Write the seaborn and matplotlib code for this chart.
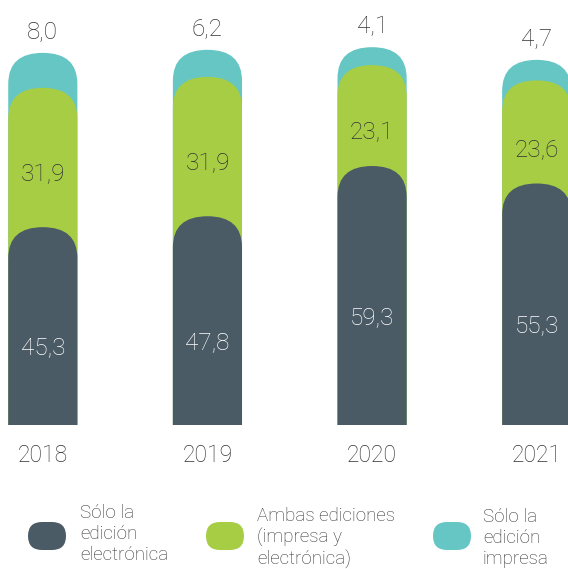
import matplotlib
matplotlib.use("Agg")
import numpy as np
import pandas as pd
import seaborn as sns
from matplotlib import pyplot as plt
from matplotlib.patches import FancyBboxPatch

years = ["2018", "2019", "2020", "2021"]
solo_electronica = [45.3, 47.8, 59.3, 55.3]
ambas = [31.9, 31.9, 23.1, 23.6]
solo_impresa = [8.0, 6.2, 4.1, 4.7]
series_names = [
    "Sólo la\nedición\nelectrónica",
    "Ambas ediciones\n(impresa y\nelectrónica)",
    "Sólo la\nedición\nimpresa",
]

DARK = "#4b5b66"
GREEN = "#a7cd45"
TEAL = "#65c6c4"
TEXT = "#333333"
FONT = ["Roboto", "DejaVu Sans"]
WEIGHT = "light"


def fmt(value: float) -> str:
    return f"{value:.1f}".replace(".", ",")


sns.set_theme(style="white")
plt.rcParams["font.family"] = FONT

df = pd.DataFrame(
    {
        "year": years,
        "electronica": solo_electronica,
        "ambas": ambas,
        "impresa": solo_impresa,
    }
)
df["cum_ambas"] = df["electronica"] + df["ambas"]
df["cum_total"] = df["cum_ambas"] + df["impresa"]

fig = plt.figure(figsize=(5.68, 5.69), dpi=100)
ax = fig.add_axes([0.0, 0.253, 1.0, 0.747])

bar_width = 0.42
y_top = 97.3
x_left, x_right = -0.26, 3.19

# draw the stacked layers back to front, then give them rounded tops
for column, color in [("cum_total", TEAL), ("cum_ambas", GREEN), ("electronica", DARK)]:
    sns.barplot(data=df, x="year", y=column, color=color, saturation=1,
                width=bar_width, ax=ax)

ax.set_xlim(x_left, x_right)
ax.set_ylim(0, y_top)

# rounding radius: half the bar width in x, ~31 px in y
px_per_y = 425 / y_top
rx = bar_width / 2
ry = 31 / px_per_y
bars = list(ax.patches)
for bar in bars:
    x0, w, h = bar.get_x(), bar.get_width(), bar.get_height()
    color = bar.get_facecolor()
    zorder = bar.get_zorder()
    bar.remove()
    rounded = FancyBboxPatch(
        (x0, -ry), w, h + ry,
        boxstyle=f"round,pad=0,rounding_size={rx}",
        mutation_aspect=ry / rx,
        facecolor=color, edgecolor="none", zorder=zorder,
    )
    ax.add_patch(rounded)

for i, row in df.iterrows():
    ax.text(i, row["cum_total"] + 4.8, fmt(row["impresa"]), ha="center",
            va="center", fontsize=17.5, color=TEXT, fontweight=WEIGHT)
    ax.text(i, (row["electronica"] + row["cum_ambas"]) / 2 - 4, fmt(row["ambas"]),
            ha="center", va="center", fontsize=17.5, color=TEXT, fontweight=WEIGHT)
    ax.text(i, row["electronica"] / 2 - 5, fmt(row["electronica"]), ha="center",
            va="center", fontsize=17.5, color="white", fontweight=WEIGHT)

sns.despine(ax=ax, left=True, bottom=True)
ax.set_yticks([])
ax.set_xlabel("")
ax.set_ylabel("")
ax.tick_params(axis="x", length=0, pad=14, labelsize=16.5, labelcolor=TEXT)
for label in ax.get_xticklabels():
    label.set_fontweight(WEIGHT)

# legend drawn in pixel coordinates
lax = fig.add_axes([0, 0, 1, 1])
lax.set_xlim(0, 568)
lax.set_ylim(569, 0)
lax.set_axis_off()
lax.patch.set_alpha(0)
legend_pills = [28, 206, 433]
legend_text_x = [80, 257, 483]
legend_text_y = [534, 538, 538]
for pill_x, tx, ty, name, color in zip(legend_pills, legend_text_x, legend_text_y,
                                       series_names, [DARK, GREEN, TEAL]):
    lax.add_patch(FancyBboxPatch((pill_x, 522), 38, 28,
                                 boxstyle="round,pad=0,rounding_size=14",
                                 facecolor=color, edgecolor="none"))
    lax.text(tx, ty, name, ha="left", va="center", fontsize=13.5,
             color=TEXT, fontweight=WEIGHT, linespacing=1.22)

fig.savefig("out.png", dpi=100)
